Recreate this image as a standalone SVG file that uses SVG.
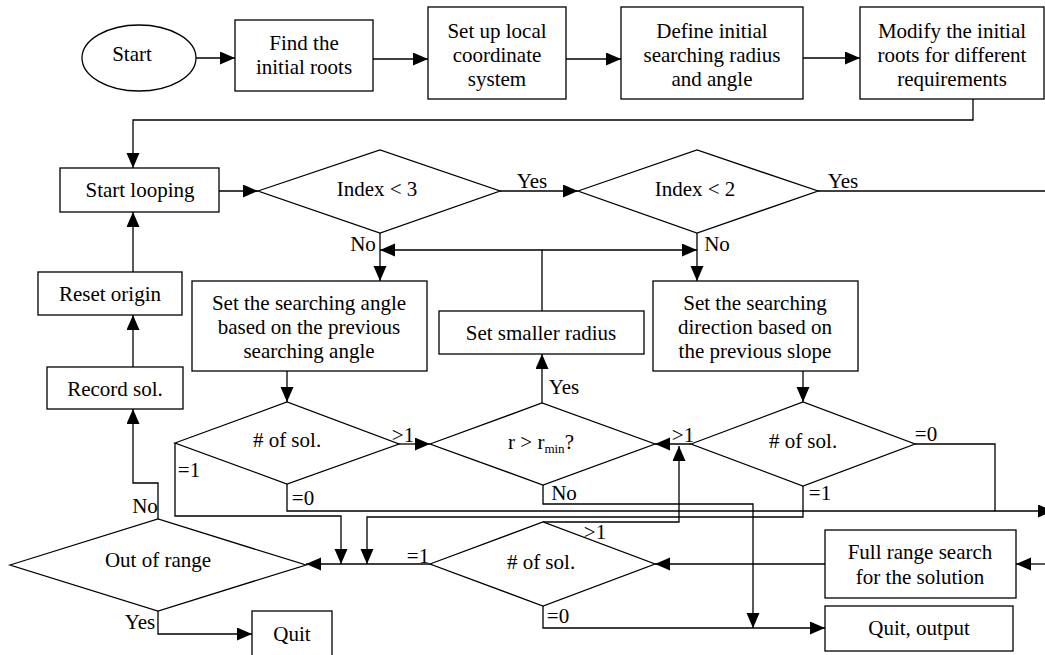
<svg xmlns="http://www.w3.org/2000/svg" width="1045" height="655" viewBox="0 0 1045 655">
<style>
.s{fill:#fff;stroke:#000;stroke-width:1.3}
.c{fill:none;stroke:#000;stroke-width:1.3}
.t{font-family:"Liberation Serif","Times New Roman",serif;font-size:21px;fill:#000;text-anchor:middle}
.l{font-family:"Liberation Serif","Times New Roman",serif;font-size:21px;fill:#000;text-anchor:middle}
</style>
<defs>
<marker id="a" markerUnits="userSpaceOnUse" markerWidth="16" markerHeight="14" refX="15" refY="6.5" orient="auto">
<path d="M0,0 L15,6.5 L0,13 z" fill="#000"/>
</marker>
</defs>
<rect width="1045" height="655" fill="#fff"/>
<g id="connectors">
<path class="c" d="M196,58 H235" marker-end="url(#a)"/>
<path class="c" d="M373,59 H428" marker-end="url(#a)"/>
<path class="c" d="M566,59 H621" marker-end="url(#a)"/>
<path class="c" d="M803,58 H860" marker-end="url(#a)"/>
<path class="c" d="M973,99 V120 H133 V168" marker-end="url(#a)"/>
<path class="c" d="M219,191 H258" marker-end="url(#a)"/>
<path class="c" d="M500,191 H578" marker-end="url(#a)"/>
<path class="c" d="M818,191 H1045"/>
<path class="c" d="M380,233 V281" marker-end="url(#a)"/>
<path class="c" d="M697,233 V281" marker-end="url(#a)"/>
<path class="c" d="M542,311 V250 H380" marker-end="url(#a)"/>
<path class="c" d="M542,250 H697" marker-end="url(#a)"/>
<path class="c" d="M287,371 V402" marker-end="url(#a)"/>
<path class="c" d="M803,371 V402" marker-end="url(#a)"/>
<path class="c" d="M399,444 H430" marker-end="url(#a)"/>
<path class="c" d="M691,444 H655" marker-end="url(#a)"/>
<path class="c" d="M542,403 V354" marker-end="url(#a)"/>
<path class="c" d="M543,485 V504 H753 V628" marker-end="url(#a)"/>
<path class="c" d="M915,444 H995 V511 H1053" marker-end="url(#a)"/>
<path class="c" d="M287,484 V511 H995"/>
<path class="c" d="M175,443 V516 H341 V564" marker-end="url(#a)"/>
<path class="c" d="M803,486 V517 H367 V564" marker-end="url(#a)"/>
<path class="c" d="M543,522 H679 V446" marker-end="url(#a)"/>
<path class="c" d="M430,564 H306" marker-end="url(#a)"/>
<path class="c" d="M543,606 V628 H825" marker-end="url(#a)"/>
<path class="c" d="M825,564 H655" marker-end="url(#a)"/>
<path class="c" d="M1045,564 H1016" marker-end="url(#a)"/>
<path class="c" d="M158,519 V483 H133 V409" marker-end="url(#a)"/>
<path class="c" d="M158,611 V634 H252" marker-end="url(#a)"/>
<path class="c" d="M133,367 V315" marker-end="url(#a)"/>
<path class="c" d="M133,272 V212" marker-end="url(#a)"/>
</g>
<g id="labels">
<text class="l" x="532" y="188">Yes</text>
<text class="l" x="843" y="188">Yes</text>
<text class="l" x="363" y="251">No</text>
<text class="l" x="717" y="251">No</text>
<text class="l" x="564" y="394">Yes</text>
<text class="l" x="403" y="442">&gt;1</text>
<text class="l" x="683" y="442">&gt;1</text>
<text class="l" x="926" y="441">=0</text>
<text class="l" x="189" y="477">=1</text>
<text class="l" x="303" y="505">=0</text>
<text class="l" x="564" y="500">No</text>
<text class="l" x="820" y="500">=1</text>
<text class="l" x="595" y="539">&gt;1</text>
<text class="l" x="418" y="563">=1</text>
<text class="l" x="558" y="623">=0</text>
<text class="l" x="145" y="513">No</text>
<text class="l" x="140" y="629">Yes</text>
</g>
<g id="start"><ellipse class="s" cx="139" cy="58" rx="57" ry="33"/><text class="t" x="132" y="61">Start</text></g>
<g id="find"><rect class="s" x="235" y="20" width="138" height="71"/><text class="t" x="304" y="50">Find the</text><text class="t" x="304" y="74">initial roots</text></g>
<g id="setup"><rect class="s" x="428" y="7" width="138" height="92"/><text class="t" x="497" y="38">Set up local</text><text class="t" x="497" y="62">coordinate</text><text class="t" x="497" y="86">system</text></g>
<g id="define"><rect class="s" x="621" y="7" width="182" height="92"/><text class="t" x="712" y="38">Define initial</text><text class="t" x="712" y="62">searching radius</text><text class="t" x="712" y="86">and angle</text></g>
<g id="modify"><rect class="s" x="860" y="7" width="184" height="92"/><text class="t" x="952" y="38">Modify the initial</text><text class="t" x="952" y="62">roots for different</text><text class="t" x="952" y="86">requirements</text></g>
<g id="startloop"><rect class="s" x="60" y="168" width="159" height="44"/><text class="t" x="140" y="197">Start looping</text></g>
<g id="idx3"><polygon class="s" points="258,191 380,150 500,191 380,233"/><text class="t" x="377" y="196">Index &lt; 3</text></g>
<g id="idx2"><polygon class="s" points="578,191 697,150 818,191 697,233"/><text class="t" x="695" y="196">Index &lt; 2</text></g>
<g id="reset"><rect class="s" x="38" y="272" width="144" height="43"/><text class="t" x="110" y="301">Reset origin</text></g>
<g id="setangle"><rect class="s" x="192" y="281" width="235" height="90"/><text class="t" x="309" y="310">Set the searching angle</text><text class="t" x="309" y="334">based on the previous</text><text class="t" x="309" y="358">searching angle</text></g>
<g id="smaller"><rect class="s" x="439" y="311" width="205" height="43"/><text class="t" x="541" y="340">Set smaller radius</text></g>
<g id="setdir"><rect class="s" x="653" y="281" width="205" height="90"/><text class="t" x="755" y="310">Set the searching</text><text class="t" x="755" y="334">direction based on</text><text class="t" x="755" y="358">the previous slope</text></g>
<g id="record"><rect class="s" x="47" y="367" width="136" height="42"/><text class="t" x="115" y="396">Record sol.</text></g>
<g id="sol1"><polygon class="s" points="175,443 287,402 399,444 287,484"/><text class="t" x="287" y="447"># of sol.</text></g>
<g id="rmin"><polygon class="s" points="430,444 542,403 655,444 543,485"/><text class="t" x="541" y="449">r &gt; r<tspan font-size="13" dy="4">min</tspan><tspan dy="-4">?</tspan></text></g>
<g id="sol2"><polygon class="s" points="691,444 803,402 915,444 803,486"/><text class="t" x="803" y="448"># of sol.</text></g>
<g id="sol3"><polygon class="s" points="430,564 543,522 655,564 543,606"/><text class="t" x="541" y="569"># of sol.</text></g>
<g id="outrange"><polygon class="s" points="10,565 158,519 306,565 158,611"/><text class="t" x="158" y="567">Out of range</text></g>
<g id="fullrange"><rect class="s" x="825" y="530" width="191" height="68"/><text class="t" x="920" y="559">Full range search</text><text class="t" x="920" y="584">for the solution</text></g>
<g id="quitout"><rect class="s" x="825" y="606" width="188" height="45"/><text class="t" x="919" y="635">Quit, output</text></g>
<g id="quit"><rect class="s" x="252" y="611" width="80" height="50"/><text class="t" x="292" y="641">Quit</text></g>
</svg>
